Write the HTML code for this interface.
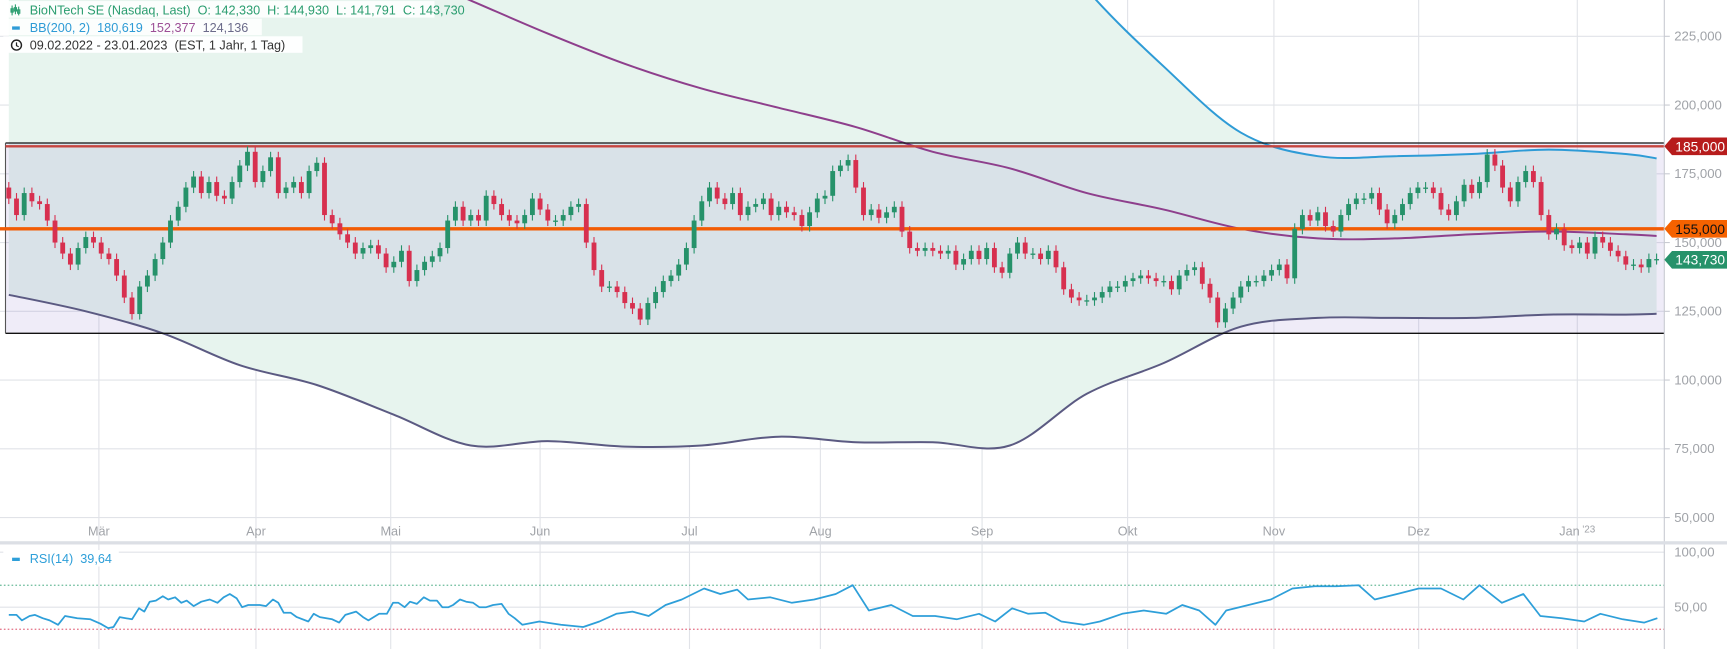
<!DOCTYPE html>
<html><head><meta charset="utf-8"><style>
html,body{margin:0;padding:0;background:#fff;overflow:hidden}
svg{display:block;font-family:"Liberation Sans",sans-serif}
text{white-space:pre}
</style></head><body>
<svg id="chart" width="1727" height="649" viewBox="0 0 1570 590" preserveAspectRatio="none" xmlns="http://www.w3.org/2000/svg">
<defs><clipPath id="mainClip"><rect x="0" y="0" width="1513" height="478"/></clipPath></defs>
<g id="grid"></g>
<g id="bands" clip-path="url(#mainClip)"></g>
<g id="levels"></g>
<g id="candles"></g>
<g id="rsi"></g>
<g id="axes"></g>
<g id="legend">
 <rect x="3" y="1" width="392" height="15" fill="#fff" opacity="0.85"/>
 <rect x="3" y="17" width="235" height="15" fill="#fff" opacity="0.85"/>
 <rect x="3" y="33" width="272" height="15" fill="#fff" opacity="0.95"/>
 <g stroke="#2a9d6f" stroke-width="1" fill="none">
  <path d="M11 5v9M14 4v9M17 6v8"/><rect x="10" y="8" width="2" height="3"/><rect x="13" y="7" width="2" height="3"/><rect x="16" y="9" width="2" height="3"/>
 </g>
 <text x="27" y="13" font-size="11.5" fill="#2a9d6f" xml:space="preserve">BioNTech SE (Nasdaq, Last)  O: 142,330  H: 144,930  L: 141,791  C: 143,730</text>
 <rect x="11" y="24" width="7" height="3" fill="#2e9bd6"/>
 <text x="27" y="29" font-size="11.5" xml:space="preserve"><tspan fill="#2e9bd6">BB(200, 2)  180,619</tspan><tspan fill="#9c4f96">  152,377</tspan><tspan fill="#6b6b8a">  124,136</tspan></text>
 <circle cx="15" cy="41" r="4.5" fill="none" stroke="#222" stroke-width="1.3"/>
 <path d="M15 38.5v3l2 1" stroke="#222" stroke-width="1.1" fill="none"/>
 <text x="27" y="45" font-size="11.5" fill="#333" xml:space="preserve">09.02.2022 - 23.01.2023  (EST, 1 Jahr, 1 Tag)</text>
</g>
</svg>
<script>
const closes=[166,160,168,165,164,158,150,146,142,148,152,150,146,144,138,130,124,134,138,144,150,158,163,170,174,168,172,167,166,172,178,183,172,176,181,168,170,172,168,176,179,160,157,153,150,146,148,149,146,141,143,147,136,140,143,145,148,158,163,158,160,158,167,164,160,158,157,160,166,162,158,158,160,163,164,150,140,134,134,132,128,126,122,128,132,136,138,142,148,158,165,170,166,164,168,160,163,164,166,160,163,161,160,156,161,166,167,176,178,180,170,160,162,159,161,163,154,148,147,148,147,146,147,142,144,147,144,148,141,139,146,150,146,146,144,147,141,133,130,129,129,130,132,134,134,136,137,138,137,136,136,133,138,140,141,135,130,121,126,130,134,136,136,138,140,142,137,155,160,158,161,156,154,160,164,166,166,168,162,157,160,164,168,170,170,168,162,160,165,171,168,172,182,178,170,165,172,176,172,160,153,155,149,148,150,146,152,150,147,145,142,142,141,144,144];
const firstOpen=170;
const bandIdx=[0,10,20,30,40,50,60,70,80,90,100,110,120,130,140,150,160,170,180,190,200,210,214];
const bbUpper=[489,471,457,445,426,413,400,374,354,336,319,307,289,278,242,214,190,181.4,181.4,182.2,183.8,182.2,180.6];
const bbMiddle=[310,298,287,275,262,250,238,226,215,206,199,192,183,177,168,162,155,151.5,151.5,153,154,153,152.4];
const bbLower=[131,125,117,105.4,98.2,87.4,76.2,77.8,75.8,76.2,79.4,77.4,77.4,76.2,95,106.2,119.4,122.6,122.6,122.6,123.8,123.8,124.1];
const rsiIdx=[0,1,1.7,2.7,3.4,4.4,5.3,6.4,7.3,8.9,10.6,11.9,12.9,13.6,14.4,16,16.9,17.6,18.3,19.1,20,20.7,21.6,22.4,23.1,24,25,26.1,27.1,27.9,28.7,29.6,30.3,31.1,32.6,33.4,34.3,35,35.7,36.6,37.4,38.9,39.6,40.4,42,42.9,43.7,45.1,46,46.7,48.1,49.1,49.9,50.6,51.4,52.1,53,53.9,54.7,55.6,56.3,57.1,57.7,58.6,59.4,60.3,61.1,62,62.9,64,64.9,65.7,66.7,68.9,71.7,74.6,76.7,78.9,81,83.1,85.3,87.4,90.3,92.4,94.6,96,98.9,101.7,104.6,107.4,109.6,111.7,114.6,117.4,120.3,123.1,126,128.1,130.3,132.4,134.6,136.7,139.6,141.7,144.6,147.4,150.3,152.4,154.6,156.7,158.1,161,163.9,166.7,169.6,172.4,175.3,177.4,180.3,183.1,186,188.9,191,193.9,196.7,198.9,201.7,204.6,206.7,209.6,212.4,214.1];
const rsiVal=[43,43,38,42,43,40,38,34,42,40,39,35,31,32,41,39,49,46,55,56,60,57,59,54,56,51,55,57,54,59,62,58,50,52,52,51,57,54,45,45,41,37,44,41,39,36,43,46,41,38,44,44,54,54,50,55,53,59,56,56,50,50,52,57,55,54,50,50,52,53,44,40,34,37,34,32,37,44,46,42,52,57,67,62,66,57,59,54,57,62,70,47,52,42,42,39,44,37,49,44,45,37,34,37,44,47,44,52,47,34,47,52,57,67,69,69,70,57,62,67,67,57,70,54,62,42,40,37,44,39,36,40];
const priceTicks=[225,200,175,150,125,100,75,50];
const priceTickLabels=["225,000","200,000","175,000","150,000","125,000","100,000","75,000","50,000"];
const monthNames=["Mär","Apr","Mai","Jun","Jul","Aug","Sep","Okt","Nov","Dez","Jan"];
const monthIdx=[11.7,32.1,49.6,69,88.4,105.4,126.4,145.3,164.3,183.1,203.7];
const rsiTicks=[100,50];
const rsiTickLabels=["100,00","50,00"];
const levelValues=[185,155];
const lastValue=143.73;

const NS="http://www.w3.org/2000/svg";
const xS=i=>8+i*7;
const yP=v=>33+(225-v)*2.5;
const yR=r=>552-(r-50);
function mk(tag,attrs,parent){const e=document.createElementNS(NS,tag);for(const k in attrs)e.setAttribute(k,attrs[k]);parent.appendChild(e);return e;}
const G=id=>document.getElementById(id);
function smooth(pts,move=true){
 let d=move?`M${pts[0][0]},${pts[0][1]}`:`L${pts[0][0]},${pts[0][1]}`;
 for(let i=0;i<pts.length-1;i++){
  const p0=pts[Math.max(0,i-1)],p1=pts[i],p2=pts[i+1],p3=pts[Math.min(pts.length-1,i+2)];
  const c1=[p1[0]+(p2[0]-p0[0])/6,p1[1]+(p2[1]-p0[1])/6];
  const c2=[p2[0]-(p3[0]-p1[0])/6,p2[1]-(p3[1]-p1[1])/6];
  d+=`C${c1[0]},${c1[1]} ${c2[0]},${c2[1]} ${p2[0]},${p2[1]}`;
 }
 return d;
}

const grid=G('grid');
priceTicks.forEach(v=>{const l=mk('line',{x1:0,x2:1513,y1:yP(v),y2:yP(v),stroke:'#e1e3e8','stroke-width':1},grid);
});
monthIdx.forEach(m=>{const l=mk('line',{x1:xS(m),x2:xS(m),y1:0,y2:590,stroke:'#e1e3e8','stroke-width':1},grid);
});

const bands=G('bands');
const upPts=bandIdx.map((d,k)=>[xS(d),yP(bbUpper[k])]);
const midPts=bandIdx.map((d,k)=>[xS(d),yP(bbMiddle[k])]);
const loPts=bandIdx.map((d,k)=>[xS(d),yP(bbLower[k])]);
const fill=mk('path',{d:smooth(upPts)+smooth(loPts.slice().reverse(),false)+'Z',fill:'#e7f4ee'},bands);

const box=mk('rect',{x:5,y:yP(185)-3,width:1508,height:yP(117)-yP(185)+3,fill:'rgba(110,80,190,0.11)'},bands);

[[upPts,'#2e9bd6','bb-upper-line'],[midPts,'#8e3f8c','bb-middle-line'],[loPts,'#5b5a82','bb-lower-line']].forEach(([pts,c,n])=>{
 const p=mk('path',{d:smooth(pts),fill:'none',stroke:c,'stroke-width':1.8},bands);
 });

const lv=G('levels');
const tb=mk('line',{x1:5,x2:1513,y1:yP(185)-3,y2:yP(185)-3,stroke:'#111','stroke-width':1.2},lv);

const bb=mk('line',{x1:5,x2:1513,y1:yP(117),y2:yP(117),stroke:'#111','stroke-width':1.2},lv);

const bl=mk('line',{x1:5,x2:5,y1:yP(185)-3,y2:yP(117),stroke:'#555','stroke-width':1},lv);

const r1=mk('line',{x1:5,x2:1513,y1:yP(levelValues[0]),y2:yP(levelValues[0]),stroke:'#c6453f','stroke-width':2.2},lv);

const r2=mk('line',{x1:0,x2:1513,y1:yP(levelValues[1]),y2:yP(levelValues[1]),stroke:'#f25c05','stroke-width':3},lv);


const cg=G('candles');
closes.forEach((c,i)=>{
 const o=i===0?firstOpen:closes[i-1];
 const up=c>=o;const col=up?'#26926a':'#d7304f';
 const hi=Math.max(o,c)+2,lw=Math.min(o,c)-2;
 const w=mk('line',{x1:xS(i),x2:xS(i),y1:yP(hi),y2:yP(lw),stroke:col,'stroke-width':1},cg);
 
 const top=yP(Math.max(o,c)),bot=yP(Math.min(o,c));
 const b=mk('rect',{x:xS(i)-2.2,y:top,width:4.4,height:Math.max(1.2,bot-top),fill:col},cg);
 
});

const ax=G('axes');
const rb=mk('line',{x1:1513,x2:1513,y1:0,y2:590,stroke:'#c8cbd2','stroke-width':1},ax);

const sep=mk('rect',{x:0,y:492,width:1570,height:3,fill:'#dcdfe5'},ax);

priceTicks.forEach((v,k)=>{
 const t=mk('text',{x:1522,y:yP(v)+4,'font-size':12,fill:'#a0a3a8'},ax);t.textContent=priceTickLabels[k];
 
 const tk=mk('line',{x1:1513,x2:1518,y1:yP(v),y2:yP(v),stroke:'#c8cbd2'},ax);
 
});
monthNames.forEach((m,k)=>{
 const t=mk('text',{x:xS(monthIdx[k]),y:487,'font-size':11.5,fill:'#a0a3a8','text-anchor':'middle'},ax);
 t.textContent=m;
 if(m==='Jan'){const s=mk('tspan',{'font-size':9,dy:-3},t);s.textContent=" '23";}
 
});
function tag(v,bg,fg,name){
 const y=yP(v);
 const p=mk('polygon',{points:`1513,${y} 1520,${y-8} 1570,${y-8} 1570,${y+8} 1520,${y+8}`,fill:bg},ax);
 
 const t=mk('text',{x:1523,y:y+4.5,'font-size':12.5,fill:fg},ax);
 t.textContent=v.toFixed(3).replace('.',',');
 
}
tag(levelValues[0],'#b71c1c','#fff','tag-185');
tag(levelValues[1],'#f56200','#111','tag-155');
tag(lastValue,'#26926a','#fff','tag-last-price');

const rg=G('rsi');
[[70,'#2a9d6f'],[30,'#d7304f']].forEach(([v,c])=>{const l=mk('line',{x1:0,x2:1513,y1:yR(v),y2:yR(v),stroke:c,'stroke-width':0.8,'stroke-dasharray':'1.5 2'},rg);
 });
rsiTicks.forEach((v,k)=>{
 const l=mk('line',{x1:0,x2:1513,y1:yR(v),y2:yR(v),stroke:'#e1e3e8'},rg);
 
 const t=mk('text',{x:1522,y:yR(v)+4,'font-size':12,fill:'#a0a3a8'},rg);t.textContent=rsiTickLabels[k];
 
});
const rl=mk('polyline',{points:rsiIdx.map((d,k)=>xS(d)+','+yR(rsiVal[k])).join(' '),fill:'none',stroke:'#2e9fd9','stroke-width':1.6,'stroke-linejoin':'round'},rg);

const rlb=mk('rect',{x:3,y:500,width:105,height:15,fill:'#fff'},rg);

const rm=mk('rect',{x:11,y:507,width:7,height:3,fill:'#2e9fd9'},rg);

const rt=mk('text',{x:27,y:512,'font-size':11.5,fill:'#2e9fd9'},rg);rt.textContent='RSI(14)  39,64';

</script>
</body></html>
